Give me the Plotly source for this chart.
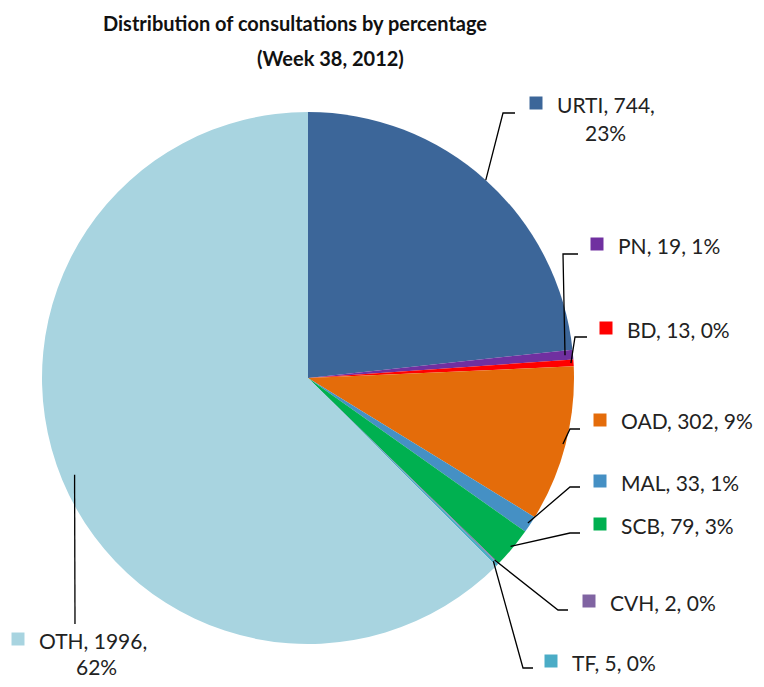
import math
import plotly.graph_objects as go

# ---- data ----
categories = ["URTI", "PN", "BD", "OAD", "MAL", "SCB", "CVH", "TF", "OTH"]
counts = [744, 19, 13, 302, 33, 79, 2, 5, 1996]
pct_labels = ["23%", "1%", "0%", "9%", "1%", "3%", "0%", "0%", "62%"]
colors = ["#3C6699", "#7030A0", "#FF0000", "#E46C0A", "#4590C4",
          "#00B050", "#8064A2", "#4BACC6", "#A8D4E0"]

title_line1 = "Distribution of consultations by percentage"
title_line2 = "(Week 38, 2012)"

# ---- layout (pixels in the browser window; page body has an 8px margin) ----
WIN_W, WIN_H = 764, 687
OFF = 8
W, H = WIN_W - 2 * OFF, WIN_H - 2 * OFF
CX, CY, R = 308, 378, 266
FONT = "Lato, 'Liberation Sans', sans-serif"
LABEL_SIZE = 21
TITLE_SIZE = 20

# label layout: leader start radius factor, elbow, end, key centre, pct line centre
label_layout = {
    "URTI": dict(start_r=1.0, elbow=(503, 113), end=(515, 113), key=(536, 103), pct=(605, 132)),
    "PN":   dict(start_r=0.97, elbow=(563, 254), end=(578, 254), key=(597, 244), pct=None),
    "BD":   dict(start_r=0.99, elbow=(575, 337), end=(587, 337), key=(606, 328), pct=None),
    "OAD":  dict(start_r=0.99, elbow=(570, 429), end=(580, 429), key=(600, 420), pct=None),
    "MAL":  dict(start_r=0.99, elbow=(570, 487), end=(580, 487), key=(600, 481), pct=None),
    "SCB":  dict(start_r=0.99, elbow=(570, 533), end=(580, 533), key=(600, 524), pct=None),
    "CVH":  dict(start_r=0.98, elbow=(558, 610), end=(568, 610), key=(589, 601), pct=None),
    "TF":   dict(start_r=0.98, elbow=(523, 668), end=(533, 668), key=(551, 661), pct=None),
    "OTH":  dict(start_r=0.95, elbow=(75, 624), end=(75, 624), key=(18, 639), pct=(96, 666)),
}

def px(x):
    return (x - OFF) / W

def py(y):
    return 1 - (y - OFF) / H

fig = go.Figure(go.Pie(
    labels=categories,
    values=counts,
    sort=False,
    direction="clockwise",
    rotation=0,
    marker=dict(colors=colors, line=dict(width=0)),
    textinfo="none",
    hoverinfo="label+value+percent",
    domain=dict(x=[px(CX - R), px(CX + R)], y=[py(CY + R), py(CY - R)]),
    showlegend=False,
))

shapes = []
annotations = []
total = sum(counts)
cum = 0
tfont = dict(family=FONT, size=LABEL_SIZE, color="#222222")
for cat, val, pct, col in zip(categories, counts, pct_labels, colors):
    mid = (cum + val / 2) / total
    cum += val
    ang = 2 * math.pi * mid
    L = label_layout[cat]
    sx = CX + R * L["start_r"] * math.sin(ang)
    sy = CY - R * L["start_r"] * math.cos(ang)
    ex, ey = L["elbow"]
    fx, fy = L["end"]
    path = f"M {px(sx)} {py(sy)} L {px(ex)} {py(ey)} L {px(fx)} {py(fy)}"
    shapes.append(dict(type="path", xref="paper", yref="paper", path=path,
                       line=dict(color="#000000", width=1.3)))
    kx, ky = L["key"]
    ks = 13
    shapes.append(dict(type="rect", xref="paper", yref="paper",
                       x0=px(kx - ks / 2), x1=px(kx + ks / 2),
                       y0=py(ky + ks / 2), y1=py(ky - ks / 2),
                       fillcolor=col, line=dict(width=0)))
    if L["pct"] is not None:
        annotations.append(dict(xref="paper", yref="paper", x=px(kx + 19), y=py(ky + 1),
                                text=f"{cat}, {val},", showarrow=False,
                                xanchor="left", yanchor="middle", font=tfont))
        qx, qy = L["pct"]
        annotations.append(dict(xref="paper", yref="paper", x=px(qx), y=py(qy),
                                text=pct, showarrow=False,
                                xanchor="center", yanchor="middle", font=tfont))
    else:
        annotations.append(dict(xref="paper", yref="paper", x=px(kx + 19), y=py(ky + 1),
                                text=f"{cat}, {val}, {pct}", showarrow=False,
                                xanchor="left", yanchor="middle", font=tfont))

annotations.append(dict(xref="paper", yref="paper", x=px(295), y=py(23),
                        text=f"<b>{title_line1}</b>", showarrow=False,
                        xanchor="center", yanchor="middle",
                        font=dict(family=FONT, size=TITLE_SIZE, color="#111111")))
annotations.append(dict(xref="paper", yref="paper", x=px(330), y=py(58),
                        text=f"<b>{title_line2}</b>", showarrow=False,
                        xanchor="center", yanchor="middle",
                        font=dict(family=FONT, size=TITLE_SIZE, color="#111111")))

fig.update_layout(
    width=W, height=H,
    margin=dict(l=0, r=0, t=0, b=0),
    paper_bgcolor="white",
    plot_bgcolor="white",
    shapes=shapes,
    annotations=annotations,
)

fig.write_html("out.html")
